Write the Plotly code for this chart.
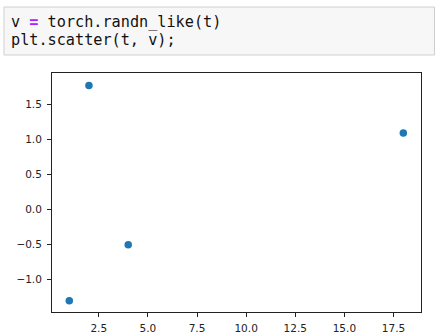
import plotly.graph_objects as go

# data
t = [1, 2, 4, 18]
v = [-1.31, 1.77, -0.51, 1.09]

x_tickvals = [2.5, 5.0, 7.5, 10.0, 12.5, 15.0, 17.5]
x_ticktext = ["2.5", "5.0", "7.5", "10.0", "12.5", "15.0", "17.5"]
y_tickvals = [-1.0, -0.5, 0.0, 0.5, 1.0, 1.5]
y_ticktext = ["\u22121.0", "\u22120.5", "0.0", "0.5", "1.0", "1.5"]

code_lines = [
    "v <span style='color:#aa22ff'><b>=</b></span> torch.randn_like(t)",
    "plt.scatter(t, v);",
]

W, H = 435, 335
L, R, T, B = 52, 421, 73, 312  # axes box in pixels


def px(xp):
    return (xp - L) / (R - L)


def py(yp):
    return (B - yp) / (B - T)


fig = go.Figure()
fig.add_trace(go.Scatter(
    x=t, y=v, mode="markers",
    marker=dict(color="#1f77b4", size=7.5, line=dict(width=0)),
    hoverinfo="skip",
))

axis_common = dict(
    showline=True, mirror=True, linecolor="#222", linewidth=1,
    ticks="outside", ticklen=4, tickwidth=1, tickcolor="#222",
    showgrid=False, zeroline=False, automargin=False,
    tickfont=dict(family="DejaVu Sans", size=10.5, color="#222"),
)

fig.update_layout(
    template="none",
    width=W, height=H,
    margin=dict(l=L, r=W - R, t=T, b=H - B, pad=0),
    paper_bgcolor="white", plot_bgcolor="white",
    showlegend=False,
    xaxis=dict(range=[0.12, 18.9], tickvals=x_tickvals, ticktext=x_ticktext,
               ticklabelstandoff=2, **axis_common),
    yaxis=dict(range=[-1.472, 1.948], tickvals=y_tickvals, ticktext=y_ticktext,
               ticklabelstandoff=3, **axis_common),
)

# code cell box
fig.add_shape(
    type="rect", xref="paper", yref="paper",
    x0=px(4), x1=px(434.5), y0=py(55), y1=py(7),
    fillcolor="#f7f7f7", line=dict(color="#cfcfcf", width=1), layer="below",
)

for i, line in enumerate(code_lines):
    fig.add_annotation(
        xref="paper", yref="paper", x=px(9), y=py(22 + 18.5 * i),
        xanchor="left", yanchor="middle", showarrow=False,
        text=line,
        font=dict(family="DejaVu Sans Mono", size=15.2, color="#111"),
    )

fig.write_html("out.html")
